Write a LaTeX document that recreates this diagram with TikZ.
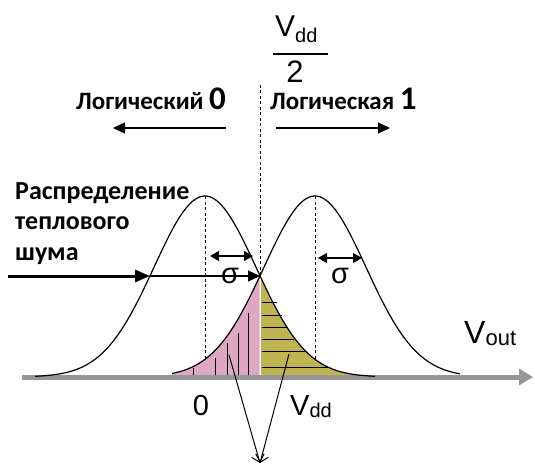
\documentclass[tikz,border=0pt]{standalone}
\usepackage{fontspec}
\setmainfont{Liberation Sans}
\newfontfamily\lblfont{Carlito}
\usetikzlibrary{arrows.meta}

\definecolor{axisgray}{RGB}{150,150,150}
\definecolor{lowpink}{RGB}{222,168,196}
\definecolor{higholive}{RGB}{191,180,82}

\begin{document}
\begin{tikzpicture}[
    x=1pt, y=-1pt,
    declare function={bell(\t)=181*exp(-0.5*(\t/51)*(\t/51));},
    every node/.style={inner sep=0pt},
    curve/.style={black, line width=1.2pt},
    guide/.style={black, line width=0.8pt, dash pattern=on 3pt off 2.5pt},
    hatch/.style={black, line width=1pt},
    axisline/.style={axisgray, line width=5pt, -{Triangle[length=14pt,width=16pt]}},
    thinarrow/.style={-{Triangle[length=12pt,width=11pt]}, line width=1.2pt},
    sigmaarrow/.style={{Triangle[length=9pt,width=10pt]}-{Triangle[length=9pt,width=10pt]}, line width=1.2pt},
    pointer/.style={-{Straight Barb[length=7pt,width=13pt]}, line width=1pt},
    lbl/.style={font=\lblfont\bfseries\fontsize{25}{28}\selectfont, anchor=base west},
    noiselbl/.style={font=\lblfont\bfseries\fontsize{26}{30}\selectfont, anchor=base west},
    volt/.style={font=\fontsize{29}{30}\selectfont}
]
\useasboundingbox (0,0) rectangle (535,465);

% guides through the peaks
\draw[guide] (205,196) -- (205,377);
\draw[guide] (315,196) -- (315,377);

% overlapping tails
\fill[lowpink] (172,377) -- plot[domain=-143:-55.5, samples=40] ({315+\x},{377-bell(\x)}) -- (259.5,377) -- cycle;
\fill[higholive] (261,377) -- plot[domain=56:170, samples=40] ({205+\x},{377-bell(\x)}) -- cycle;
\foreach \hx/\hy in {193/368,215/358,227/343,238/333,248/313}
    \draw[hatch] (\hx,377) -- (\hx,\hy);
\foreach \hy/\hx in {302/277,315/282,327/288,339/294,351/306,367/328}
    \draw[hatch] (262,\hy) -- (\hx,\hy);

% axis
\coordinate (axisstart) at (22,377);
\coordinate (axisend) at (533,377);
\draw[axisline] (axisstart) -- (axisend);

% the two distributions
\draw[curve] plot[domain=-170:170, samples=100] ({205+\x},{377-bell(\x)});
\draw[curve] plot[domain=-143:145, samples=100] ({315+\x},{377-bell(\x)});

% threshold
\coordinate (midtop) at (260,85);
\coordinate (cross) at (260,276);
\draw[guide] (midtop) -- (cross);

% noise arrow
\coordinate (noisestart) at (8,276);
\coordinate (noisehit) at (150,276);
\draw[-{Triangle[length=15pt,width=12pt]}, line width=3pt] (noisestart) -- (noisehit);
\draw[thinarrow] (noisehit) -- (cross);

% sigma marks
\coordinate (lsigl) at (210,256);
\coordinate (lsigr) at (253,256);
\coordinate (rsigl) at (318,258);
\coordinate (rsigr) at (362,258);
\draw[sigmaarrow] (lsigl) -- (lsigr);
\draw[sigmaarrow] (rsigl) -- (rsigr);
\node[volt, anchor=base] (lsigma) at (230,283) {σ};
\node[volt, anchor=base] (rsigma) at (340,283) {σ};

% logic levels
\coordinate (zerofrom) at (226,128);
\coordinate (zeroto) at (113,128);
\coordinate (onefrom) at (276,128);
\coordinate (oneto) at (390,128);
\draw[thinarrow] (zerofrom) -- (zeroto);
\draw[thinarrow] (onefrom) -- (oneto);
\node[lbl] (logzero) at (76,110) {Логический {\fontsize{33}{33}\selectfont 0}};
\node[lbl] (logone) at (270,110) {Логическая {\fontsize{33}{33}\selectfont 1}};

% Vdd/2
\node[font=\fontsize{30}{30}\selectfont, anchor=base west] (vddtop) at (275,37) {V\lower6pt\hbox{\fontsize{20}{20}\selectfont dd}};
\coordinate (barl) at (273,54);
\coordinate (barr) at (328,54);
\draw[line width=1.2pt] (barl) -- (barr);
\node[font=\fontsize{31}{30}\selectfont, anchor=base] (two) at (295,83) {2};

% noise label
\node[noiselbl] (noise1) at (15,200) {Распределение};
\node[noiselbl] (noise2) at (15,229) {теплового};
\node[noiselbl] (noise3) at (15,260) {шума};

% axis labels
\node[volt, anchor=base] (zero) at (201,415) {0};
\node[volt, anchor=base west] (vdd) at (290,415) {V\lower2pt\hbox{\fontsize{20}{20}\selectfont dd}};
\node[font=\fontsize{32}{32}\selectfont, anchor=base west] (vout) at (464,343) {V\lower2pt\hbox{\fontsize{22}{22}\selectfont out}};

% error pointers
\coordinate (pinkspot) at (229,355);
\coordinate (olivespot) at (289,354);
\coordinate (outtip) at (260,463);
\draw[pointer] (pinkspot) -- (outtip);
\draw[pointer] (olivespot) -- (outtip);
\end{tikzpicture}
\end{document}
